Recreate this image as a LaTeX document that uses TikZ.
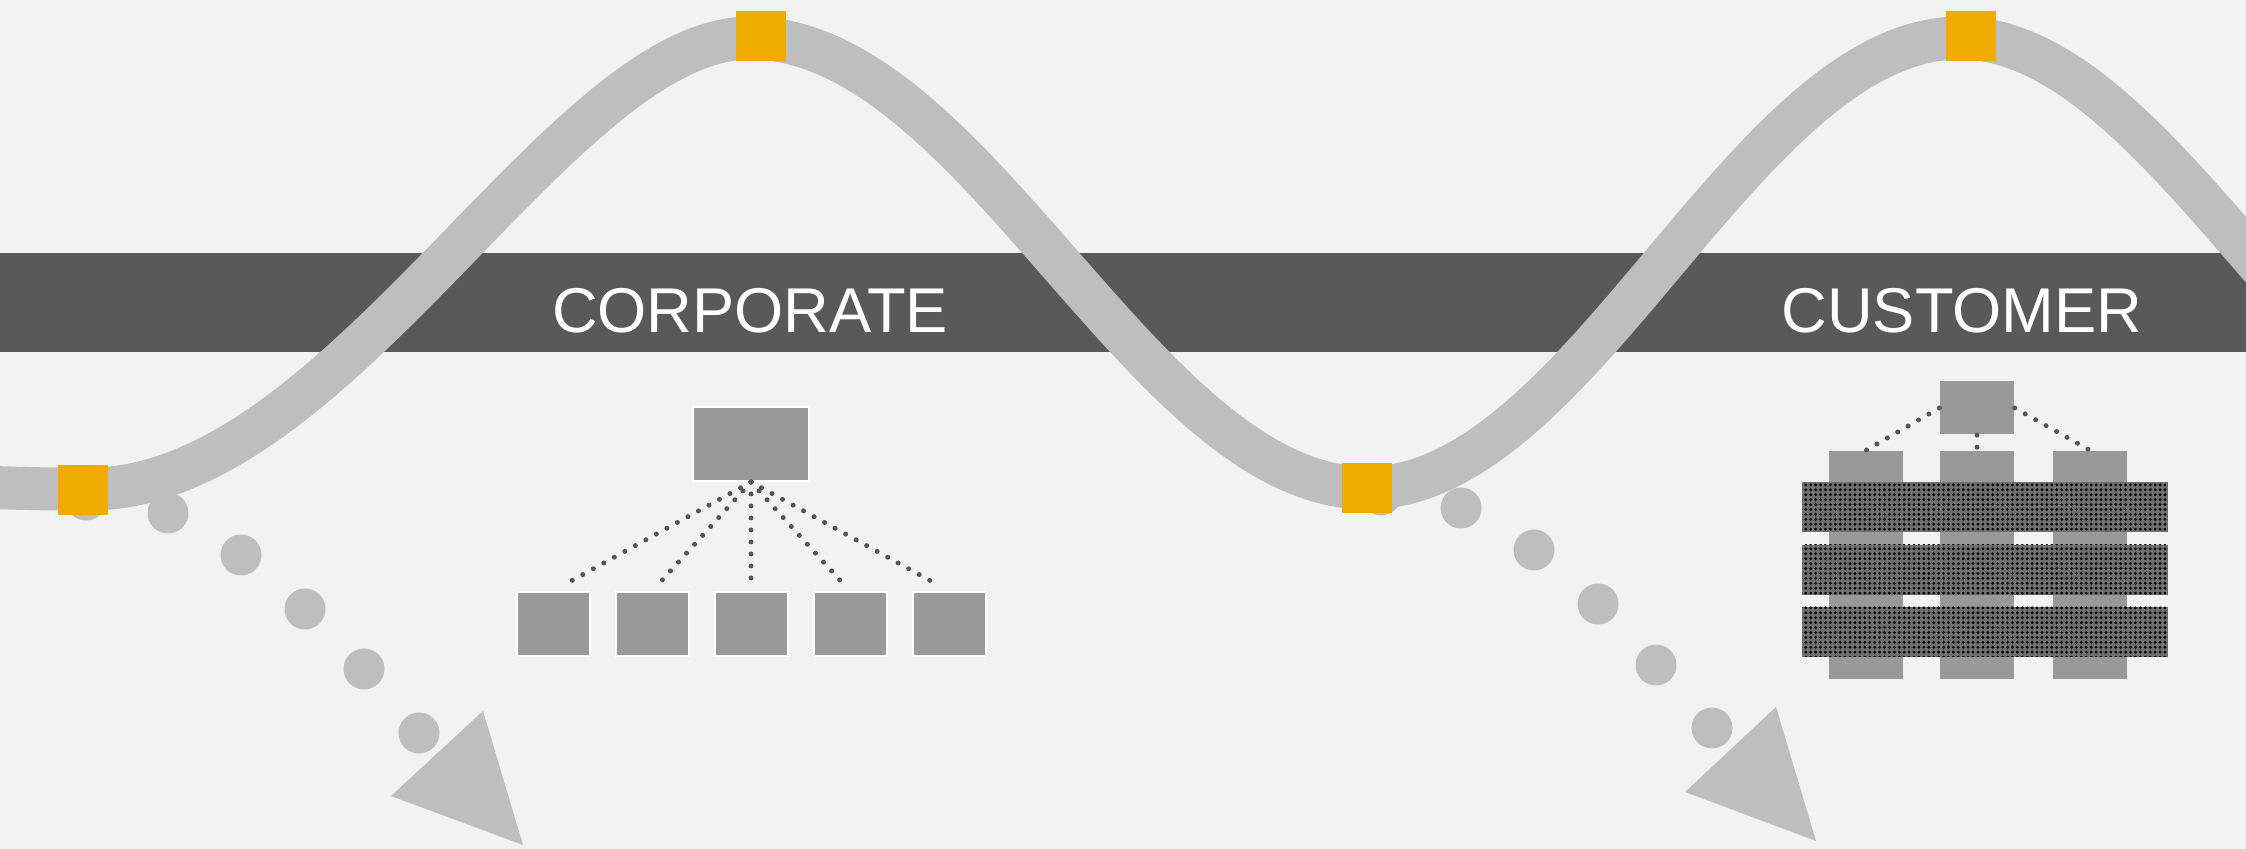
\documentclass[tikz,border=0pt]{standalone}
\usepackage{fontspec}
\setmainfont{Liberation Sans}
\usetikzlibrary{patterns}

\definecolor{bgcol}{RGB}{242,242,242}
\definecolor{bandgray}{RGB}{89,89,89}
\definecolor{wavegray}{RGB}{190,190,190}
\definecolor{boxgray}{RGB}{153,153,153}
\definecolor{linkgray}{RGB}{85,85,85}
\definecolor{hatchgray}{RGB}{112,112,112}
\definecolor{amber}{RGB}{240,171,0}

\pgfdeclarepatternformonly{finedots}{\pgfpoint{-0.5pt}{-0.5pt}}{\pgfpoint{0.5pt}{0.5pt}}{\pgfpoint{1.4pt}{1.4pt}}%
{\pgfpathcircle{\pgfpointorigin}{0.45pt}\pgfusepath{fill}}

\begin{document}
\begin{tikzpicture}[x=0.1mm, y=-0.1mm,
    wave/.style={draw=wavegray, line width=4.3mm},
    marker/.style={fill=amber, minimum size=5mm, inner sep=0pt},
    bubble/.style={circle, fill=wavegray, minimum size=4.1mm, inner sep=0pt},
    label/.style={text=white, font=\fontsize{18}{20}\selectfont, inner sep=0pt},
    orgbox/.style={fill=boxgray, draw=white, line width=0.2mm, inner sep=0pt},
    unitbox/.style={fill=boxgray, inner sep=0pt, minimum width=7.4mm},
    layer/.style={fill=hatchgray, postaction={pattern=finedots, pattern color=black},
        inner sep=0pt, minimum width=36.6mm, minimum height=5mm},
    link/.style={draw=linkgray, line width=0.5mm, line cap=round, dash pattern=on 0pt off 1.2mm}]
    \fill[bgcol] (0,0) rectangle (2246,849);
    \useasboundingbox (0,0) rectangle (2246,849);

    % band and wave
    \fill[bandgray] (0,253) rectangle (2246,352);
    \draw[wave] (-80,483) .. controls (0,489) and (40,489) .. (90,489)
        .. controls (340,489) and (560,38) .. (750,38)
        .. controls (975,38) and (1145,488) .. (1367,488)
        .. controls (1582,488) and (1745,38) .. (1960,38)
        .. controls (2170,38) and (2340,488) .. (2570,488);

    \node[label] (corporate) at (750,311) {CORPORATE};
    \node[label] (customer) at (1962,311) {CUSTOMER};

    % dotted arrows
    \node[bubble] (l0) at (86,500) {};
    \node[bubble] (l1) at (168,513) {};
    \node[bubble] (l2) at (241,555) {};
    \node[bubble] (l3) at (305,609) {};
    \node[bubble] (l4) at (364,669) {};
    \node[bubble] (l5) at (419,733) {};
    \fill[wavegray] (483,711) -- (391,796) -- (523,845) -- cycle;

    \node[bubble] (r0) at (1381,495) {};
    \node[bubble] (r1) at (1461,508) {};
    \node[bubble] (r2) at (1534,550) {};
    \node[bubble] (r3) at (1598,604) {};
    \node[bubble] (r4) at (1656,665) {};
    \node[bubble] (r5) at (1712,728) {};
    \fill[wavegray] (1776,707) -- (1685,792) -- (1816,841) -- cycle;

    \node[marker] (m1) at (83,490) {};
    \node[marker] (m2) at (761,36) {};
    \node[marker] (m3) at (1367,488) {};
    \node[marker] (m4) at (1971,36) {};

    % corporate tree
    \node[orgbox, minimum width=11.6mm, minimum height=7.4mm] (head) at (751,444) {};
    \node[orgbox, minimum width=7.3mm, minimum height=6.4mm] (c1) at (553,624) {};
    \node[orgbox, minimum width=7.3mm, minimum height=6.4mm] (c2) at (652,624) {};
    \node[orgbox, minimum width=7.3mm, minimum height=6.4mm] (c3) at (751,624) {};
    \node[orgbox, minimum width=7.3mm, minimum height=6.4mm] (c4) at (850,624) {};
    \node[orgbox, minimum width=7.3mm, minimum height=6.4mm] (c5) at (949,624) {};
    \draw[link] (head.south) -- ([xshift=0.9mm, yshift=0.5mm]c1.north);
    \draw[link] (head.south) -- ([xshift=0.3mm, yshift=0.3mm]c2.north);
    \draw[link] (head.south) -- ([yshift=0.3mm]c3.north);
    \draw[link] (head.south) -- ([xshift=-0.3mm, yshift=0.3mm]c4.north);
    \draw[link] (head.south) -- ([xshift=-0.9mm, yshift=0.5mm]c5.north);

    % customer tree
    \node[unitbox, minimum height=5.3mm] (top) at (1977,408) {};
    \node[unitbox, minimum height=22.8mm] (col1) at (1866,565) {};
    \node[unitbox, minimum height=22.8mm] (col2) at (1977,565) {};
    \node[unitbox, minimum height=22.8mm] (col3) at (2090,565) {};
    \node[layer] (layer1) at (1985,507) {};
    \node[layer] (layer2) at (1985,570) {};
    \node[layer] (layer3) at (1985,632) {};
    \draw[link] (top.west) -- (col1.north);
    \draw[link] (top.south) -- (col2.north);
    \draw[link] (top.east) -- (col3.north);
\end{tikzpicture}
\end{document}
